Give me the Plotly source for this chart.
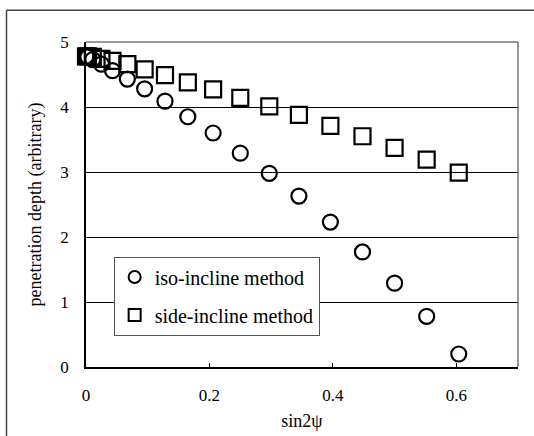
import plotly.graph_objects as go

# sin^2(psi) values
x_vals = [0.0, 0.003, 0.011, 0.025, 0.043, 0.067, 0.095, 0.128, 0.165, 0.206,
          0.250, 0.297, 0.345, 0.396, 0.448, 0.500, 0.552, 0.604]
iso_incline = [4.78, 4.77, 4.73, 4.66, 4.56, 4.43, 4.28, 4.09, 3.85, 3.60,
               3.29, 2.98, 2.63, 2.23, 1.77, 1.29, 0.78, 0.20]
side_incline = [4.78, 4.78, 4.77, 4.74, 4.71, 4.66, 4.58, 4.49, 4.38, 4.27,
                4.14, 4.01, 3.88, 3.71, 3.55, 3.37, 3.19, 2.99]

x_ticks = [0, 0.2, 0.4, 0.6]
x_tick_text = ["0", "0.2", "0.4", "0.6"]
y_ticks = [0, 1, 2, 3, 4, 5]
y_tick_text = ["0", "1", "2", "3", "4", "5"]

FONT = "Liberation Serif, Times New Roman, serif"

fig = go.Figure()
fig.add_trace(go.Scatter(
    x=x_vals, y=iso_incline, mode="markers", name="iso-incline method",
    legendgroup="a",
    marker=dict(symbol="circle-open", size=15, color="black", line=dict(width=2.2)),
    cliponaxis=False,
))
fig.add_trace(go.Scatter(
    x=x_vals, y=side_incline, mode="markers", name="side-incline method",
    legendgroup="b",
    marker=dict(symbol="square-open", size=16, color="black", line=dict(width=2.2)),
    cliponaxis=False,
))

fig.update_layout(
    width=534, height=436,
    margin=dict(l=86, r=16, t=42, b=69, autoexpand=False),
    paper_bgcolor="white", plot_bgcolor="white",
    font=dict(family=FONT, size=17, color="black"),
    showlegend=True,
    legend=dict(
        x=0.064, y=0.34, xanchor="left", yanchor="top",
        bgcolor="white", bordercolor="#555", borderwidth=1,
        font=dict(family=FONT, size=20, color="black"),
        itemsizing="constant", traceorder="grouped", tracegroupgap=9,
    ),
    xaxis=dict(
        range=[0, 0.7], tickvals=x_ticks, ticktext=x_tick_text,
        showgrid=False, zeroline=False, automargin=False,
        showline=True, linecolor="black", linewidth=1.5,
        ticks="inside", ticklen=4, tickcolor="black",
        ticklabelstandoff=12,
        title=dict(text="sin2ψ", font=dict(family=FONT, size=18), standoff=10),
    ),
    yaxis=dict(
        range=[0, 5], tickvals=y_ticks, ticktext=y_tick_text,
        showgrid=True, gridcolor="black", gridwidth=1, zeroline=False, automargin=False,
        showline=True, linecolor="black", linewidth=1.5,
        ticks="", ticklabelstandoff=12,
        title=dict(text="penetration depth (arbitrary)", font=dict(family=FONT, size=18), standoff=14),
    ),
    shapes=[
        # plot area top/right border (grey, scanned look)
        dict(type="line", xref="paper", yref="paper", x0=0, x1=1, y0=1, y1=1,
             line=dict(color="#777", width=1.5), layer="above"),
        dict(type="line", xref="paper", yref="paper", x0=1, x1=1, y0=0, y1=1,
             line=dict(color="#777", width=1.5), layer="above"),
        # outer frame of the figure
        dict(type="line", xref="paper", yref="paper", x0=-0.184, x1=1.05, y0=1.0975, y1=1.0975,
             line=dict(color="#444", width=1.5), layer="above"),
        dict(type="line", xref="paper", yref="paper", x0=-0.184, x1=-0.184, y0=-0.25, y1=1.0975,
             line=dict(color="#444", width=1.5), layer="above"),
    ],
)

fig.write_html("out.html", config={"displayModeBar": False},
               post_script="document.body.style.margin='0px';")
